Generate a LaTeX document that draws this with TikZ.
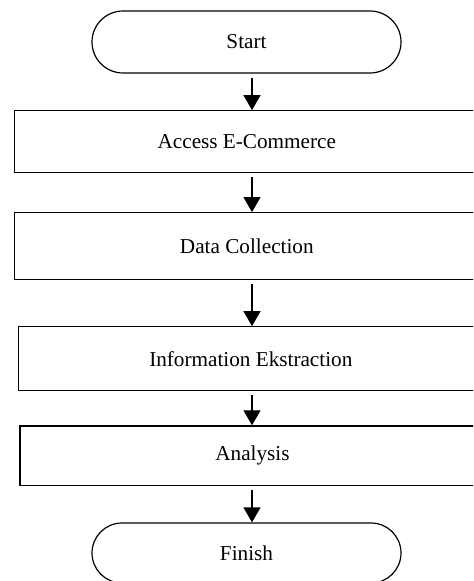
\documentclass[tikz,border=0pt]{standalone}
\usepackage{fontspec}
\setmainfont{Liberation Serif}
\usetikzlibrary{arrows.meta,shapes.misc}

\begin{document}
\begin{tikzpicture}[x=0.5pt, y=-0.5pt,
    font=\fontsize{10.6}{12.7}\selectfont,
    term/.style={draw, rounded rectangle, line width=0.6pt, minimum width=154.5pt, inner sep=0pt},
    stepbox/.style={draw, rectangle, line width=0.6pt, minimum width=232.5pt, inner sep=0pt},
    flow/.style={-{Triangle[width=8.5pt, length=7.5pt]}, line width=0.6pt, shorten <=2pt}]
    \useasboundingbox (0, 0) rectangle (473, 581);
    \clip (0, 0) rectangle (473, 581);

    \coordinate (axis) at (252, 0);
    \node[term, minimum height=31pt] (start) at (246.5, 42) {Start};
    \node[stepbox, minimum height=31pt] (access) at (246.8, 141.7) {Access E-Commerce};
    \node[stepbox, minimum height=33.6pt] (collect) at (246.8, 246.3) {Data Collection};
    \node[stepbox, minimum height=32pt] (extract) at (250.8, 358.7) {Information Ekstraction};
    \node[stepbox, minimum height=29.9pt] (analysis) at (252.5, 455.8) {Analysis};
    \node[term, minimum height=30pt] (finish) at (246.5, 553) {Finish};

    \draw[flow] (start.south -| axis) -- (access.north -| axis);
    \draw[flow] (access.south -| axis) -- (collect.north -| axis);
    \draw[flow] (collect.south -| axis) -- (extract.north -| axis);
    \draw[flow] (extract.south -| axis) -- (analysis.north -| axis);
    \draw[flow] (analysis.south -| axis) -- (finish.north -| axis);
\end{tikzpicture}
\end{document}
